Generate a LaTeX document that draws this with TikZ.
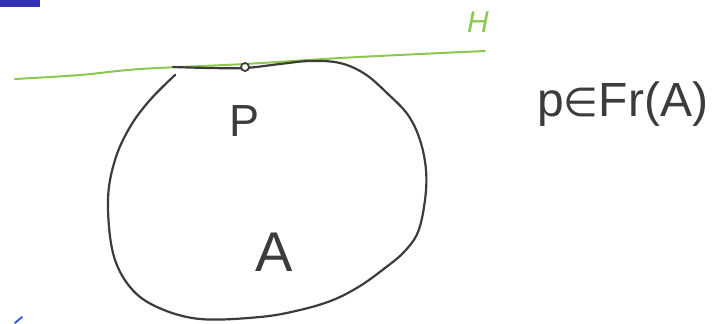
\documentclass[tikz,border=0pt]{standalone}
\usepackage{fontspec}
\setmainfont{Liberation Sans}
\newfontfamily\symfont{DejaVu Sans}
\usepackage{tikz}
\usetikzlibrary{calc}
\definecolor{hgreen}{RGB}{140,200,80}
\definecolor{barblue}{RGB}{50,50,180}
\definecolor{markblue}{RGB}{60,90,220}
\definecolor{pen}{RGB}{60,60,60}

\begin{document}
\begin{tikzpicture}[x=1pt,y=-1pt]
\useasboundingbox (0,0) rectangle (716,324);
\fill[barblue] (0,0) rectangle (40,7);
\draw[markblue, line width=2pt, line cap=round] (15,323) -- (22,317);
% plane H
\draw[hgreen, line width=2pt, line cap=round] plot[smooth] coordinates {(15,79) (80,75) (140,69) (245,64) (340,58) (420,54) (485,51)};
\node[text=hgreen, font=\fontsize{30}{30}\selectfont\itshape] (labH) at (478,22) {H};
% set A
\draw[pen, line width=2.2pt, line cap=round] plot[smooth, tension=0.6] coordinates {(173,67) (210,68) (245,68) (280,64) (310,61) (340,63) (365,74) (388,94) (408,115) (420,140) (426,170) (425,200) (418,232) (404,252) (385,268) (360,286) (333,300) (300,310) (260,317) (200,319) (157,307) (130,287) (113,253) (108,200) (115,160) (130,127) (150,100) (175,75)};
\draw[pen, line width=1.8pt, fill=white] (245,67) circle (4);
\node[text=pen, font=\fontsize{45}{45}\selectfont] (labP) at (245,121) {P};
\node[text=pen, font=\fontsize{56}{56}\selectfont] (labA) at (274,252) {A};
\node[text=pen, font=\fontsize{48}{48}\selectfont, anchor=west, inner sep=0pt] (rel) at (537,104) {p{\symfont\fontsize{40}{40}\selectfont ∈}Fr(A)};
\end{tikzpicture}
\end{document}
